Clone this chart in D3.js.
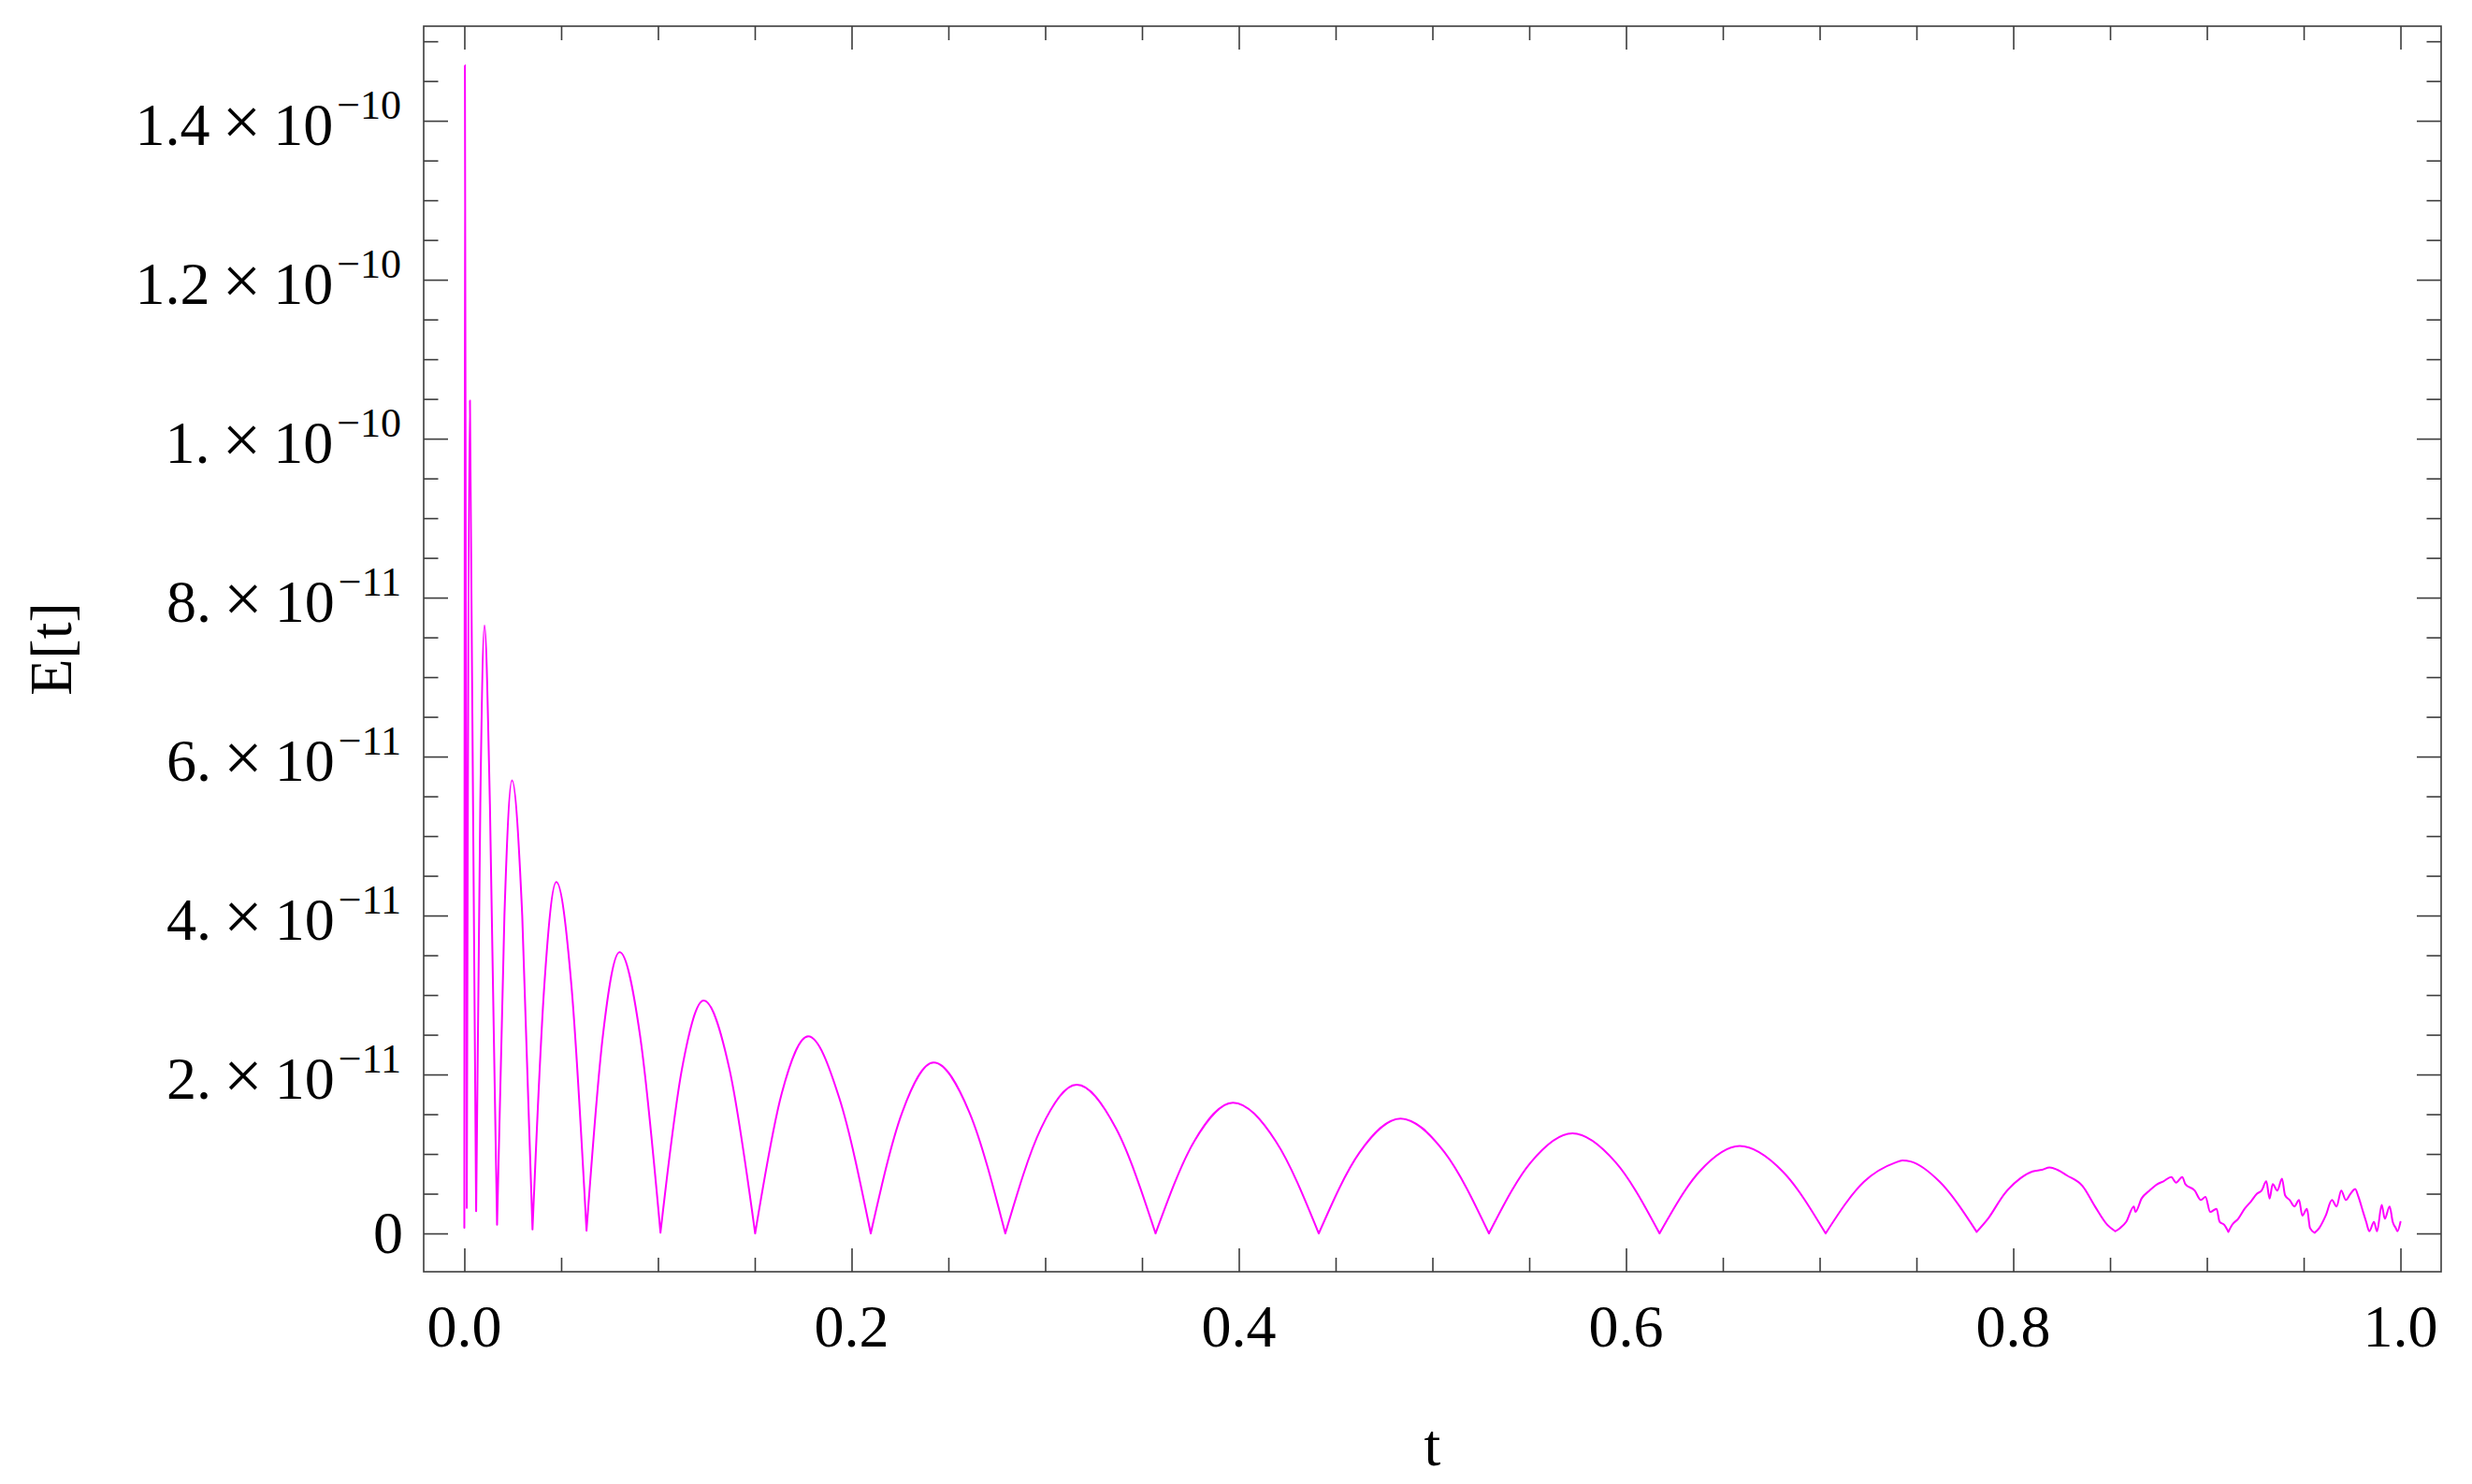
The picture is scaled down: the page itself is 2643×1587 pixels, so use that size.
<!DOCTYPE html>
<html>
<head>
<meta charset="utf-8">
<script src="https://cdn.jsdelivr.net/npm/d3@7"></script>
<style>
  html, body { margin: 0; padding: 0; background: #fff; }
  svg { display: block; }
  text { font-family: "Liberation Serif", "Times New Roman", serif; fill: #000; }
</style>
</head>
<body>
<div id="chart"></div>
<script>
// ── Data (E in units of 1e-11) ──
// cusps: the near-zero points where one arch ends and the next begins
const cuspT = [0, 0.00126, 0.00609, 0.0169, 0.0352, 0.0631, 0.1013, 0.1502, 0.2099, 0.2794,
               0.3570, 0.4413, 0.5292, 0.6173, 0.7031, 0.7811, 0.8527, 0.9111, 0.9557, 1.0];
const cuspE = [0.07, 0.32, 0.28, 0.11, 0.05, 0.035, 0.01, 0, 0, 0,
               0, 0, 0, 0, 0, 0.02, 0.027, 0.02, 0.008, 0.145];

// points inside the arches (flanks, peaks, and the noise toward the end)
const archT = [
  0.0003,
  0.0029,
  0.00825, 0.0104, 0.0132,
  0.0207, 0.0246, 0.0299,
  0.0413, 0.0475, 0.0553,
  0.0716, 0.0802, 0.0907,
  0.1124, 0.1236, 0.1369,
  0.1639, 0.1776, 0.1937,
  0.2261, 0.2424, 0.2609,
  0.2978, 0.3163, 0.3366,
  0.3770, 0.3970, 0.4191,
  0.4624, 0.4835, 0.5063,
  0.5507, 0.5723, 0.5948,
  0.6380, 0.6587, 0.6809,
  0.7229, 0.7390, 0.7428, 0.7470, 0.7620,
  0.7874, 0.7955, 0.8035, 0.8100, 0.8148, 0.8188, 0.8228, 0.8277, 0.8357, 0.8422, 0.8486,
  0.8551, 0.8583, 0.8623, 0.8631, 0.8663, 0.8704, 0.8744, 0.8776, 0.8816, 0.8841,
  0.8873, 0.8889, 0.8937, 0.8969, 0.8993, 0.9017, 0.9050, 0.9066, 0.9090,
  0.9130, 0.9162, 0.9195, 0.9227, 0.9259, 0.9283, 0.9307, 0.9324, 0.9340,
  0.9364, 0.9388, 0.9404, 0.9428, 0.9452, 0.9476, 0.9493, 0.9517, 0.9533,
  0.9581, 0.9614, 0.9646, 0.9670, 0.9694, 0.9718, 0.9742, 0.9766, 0.9783, 0.9807,
  0.9823, 0.9839, 0.9863, 0.9879, 0.9903, 0.9919, 0.9944, 0.9960, 0.9976, 0.9984
];
const archE = [
  14.70,
  10.48,
  5.41, 7.65, 5.40,
  4.00, 5.70, 4.00,
  3.12, 4.42, 3.12,
  2.50, 3.54, 2.50,
  2.07, 2.93, 2.07,
  1.76, 2.48, 1.70,
  1.52, 2.15, 1.52,
  1.32, 1.87, 1.32,
  1.16, 1.646, 1.16,
  1.02, 1.445, 1.02,
  0.89, 1.259, 0.89,
  0.78, 1.10, 0.78,
  0.65, 0.89, 0.918, 0.905, 0.65,
  0.20, 0.50, 0.69, 0.78, 0.80, 0.83, 0.80, 0.73, 0.60, 0.34, 0.107,
  0.066, 0.145, 0.34, 0.27, 0.44, 0.54, 0.62, 0.655, 0.71, 0.64,
  0.71, 0.62, 0.54, 0.42, 0.46, 0.27, 0.31, 0.145, 0.107,
  0.107, 0.185, 0.31, 0.40, 0.50, 0.54, 0.655, 0.44, 0.62,
  0.54, 0.69, 0.48, 0.42, 0.34, 0.42, 0.225, 0.31, 0.066,
  0.07, 0.225, 0.42, 0.34, 0.54, 0.42, 0.50, 0.56, 0.46, 0.27,
  0.145, 0.027, 0.145, 0.027, 0.36, 0.185, 0.34, 0.145, 0.066, 0.027
];

// ── Ticks ──
const xMajor = [0, 0.2, 0.4, 0.6, 0.8, 1.0];
const xLabels = ["0.0", "0.2", "0.4", "0.6", "0.8", "1.0"];
const yMajor = [0, 2, 4, 6, 8, 10, 12, 14];
const yMantissa = ["0", "2.", "4.", "6.", "8.", "1.", "1.2", "1.4"];
const yExponent = ["", "\u221211", "\u221211", "\u221211", "\u221211", "\u221210", "\u221210", "\u221210"];

(function () {
    "use strict";

    const W = 2643, H = 1587;
    const frame = { left: 453, right: 2610, top: 28, bottom: 1360 };
    const axisColor = "#3c3c3c";

    const svg = d3.select("#chart").append("svg")
        .attr("width", W).attr("height", H);

    svg.append("rect").attr("width", W).attr("height", H).attr("fill", "#fff");

    const x = d3.scaleLinear().domain([-0.021, 1.021]).range([frame.left, frame.right]);
    const y = d3.scaleLinear().domain([-0.482, 15.19]).range([frame.bottom, frame.top]);

    const xMinor = d3.range(0, 1.0001, 0.05).filter(v => !xMajor.some(m => Math.abs(m - v) < 1e-6));
    const yMinor = d3.range(0.5, 15.1, 0.5).filter(v => !yMajor.some(m => Math.abs(m - v) < 1e-6));

    // ── Tick marks (inward, on all four sides) ──
    function ticks(axis, tx, ty) {
        const g = svg.append("g")
            .attr("transform", `translate(${tx},${ty})`)
            .attr("color", axisColor)
            .call(axis.tickFormat(""));
        g.select(".domain").remove();
        g.selectAll("line").attr("stroke-width", 1.6);
    }
    ticks(d3.axisBottom(x).tickValues(xMajor).tickSize(-25), 0, frame.bottom);
    ticks(d3.axisBottom(x).tickValues(xMinor).tickSize(-15), 0, frame.bottom);
    ticks(d3.axisTop(x).tickValues(xMajor).tickSize(-25), 0, frame.top);
    ticks(d3.axisTop(x).tickValues(xMinor).tickSize(-15), 0, frame.top);
    ticks(d3.axisLeft(y).tickValues(yMajor).tickSize(-26), frame.left, 0);
    ticks(d3.axisLeft(y).tickValues(yMinor).tickSize(-15.5), frame.left, 0);
    ticks(d3.axisRight(y).tickValues(yMajor).tickSize(-26), frame.right, 0);
    ticks(d3.axisRight(y).tickValues(yMinor).tickSize(-15.5), frame.right, 0);

    // ── Frame ──
    svg.append("rect")
        .attr("x", frame.left).attr("y", frame.top)
        .attr("width", frame.right - frame.left)
        .attr("height", frame.bottom - frame.top)
        .attr("fill", "none")
        .attr("stroke", axisColor)
        .attr("stroke-width", 1.6);

    // ── Curve: each arch is its own smooth piece so the cusps stay sharp ──
    const line = d3.line()
        .x(d => x(d[0]))
        .y(d => y(d[1]))
        .curve(d3.curveMonotoneX);

    let pathD = "";
    for (let i = 0; i < cuspT.length - 1; i++) {
        const a = cuspT[i], b = cuspT[i + 1];
        const seg = [[a, cuspE[i]]];
        archT.forEach((t, j) => { if (t > a && t < b) seg.push([t, archE[j]]); });
        seg.push([b, cuspE[i + 1]]);
        pathD += line(seg);
    }

    svg.append("path")
        .attr("d", pathD)
        .attr("fill", "none")
        .attr("stroke", "#ff00ff")
        .attr("stroke-width", 2)
        .attr("stroke-linejoin", "round")
        .attr("stroke-linecap", "round");

    // ── X tick labels ──
    svg.append("g").selectAll("text")
        .data(xMajor)
        .join("text")
        .attr("x", d => x(d))
        .attr("y", frame.bottom + 80)
        .attr("text-anchor", "middle")
        .attr("font-size", 64)
        .text((d, i) => xLabels[i]);

    // ── Y tick labels (mantissa × 10^exp) ──
    const yl = svg.append("g").selectAll("text")
        .data(yMajor)
        .join("text")
        .attr("x", (d, i) => yExponent[i] ? 429 : 431)
        .attr("y", (d, i) => y(d) + (yExponent[i] ? 26 : 21))
        .attr("text-anchor", "end")
        .attr("font-size", 64);

    yl.each(function (d, i) {
        const t = d3.select(this);
        if (!yExponent[i]) { t.text(yMantissa[i]); return; }
        t.append("tspan").text(yMantissa[i] + " ");
        t.append("tspan").attr("dx", -3).attr("font-size", 74).text("\u00d7");
        t.append("tspan").attr("dx", -3).text(" 10");
        t.append("tspan").attr("dx", 4).attr("dy", -28).attr("font-size", 44).text(yExponent[i]);
    });

    // ── Axis labels ──
    svg.append("text")
        .attr("x", (frame.left + frame.right) / 2)
        .attr("y", 1567)
        .attr("text-anchor", "middle")
        .attr("font-size", 64)
        .text("t");

    svg.append("text")
        .attr("transform", `translate(76,${(frame.top + frame.bottom) / 2}) rotate(-90)`)
        .attr("text-anchor", "middle")
        .attr("font-size", 64)
        .text("E[t]");
})();
</script>
</body>
</html>
